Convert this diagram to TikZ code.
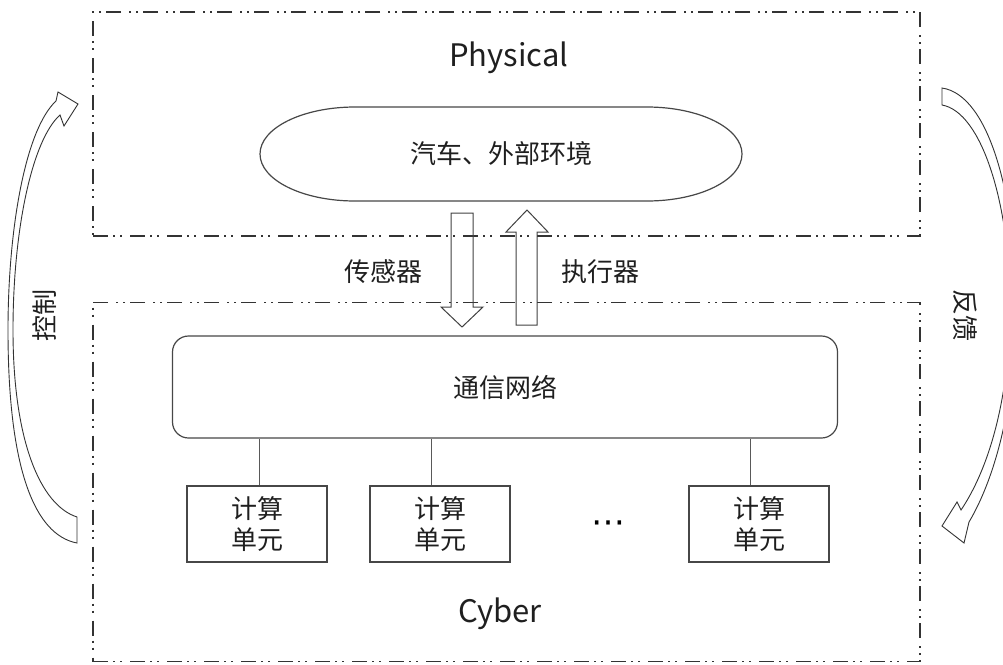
\documentclass[tikz,border=0pt]{standalone}
\usepackage{fontspec}
\setmainfont{Noto Sans CJK SC}
\newfontfamily\symfont{DejaVu Sans}
\begin{document}
\begin{tikzpicture}[x=1pt,y=-1pt,
  zone/.style={draw=black!80, line width=1.6pt,
    dash pattern=on 15pt off 5pt on 2pt off 5pt on 2pt off 8pt, inner sep=0pt},
  outline/.style={draw=black!72, line width=1.2pt},
  cjk/.style={font=\fontsize{26}{31}\selectfont, text=black!88},
  title/.style={font=\fontsize{31}{36}\selectfont, text=black!88, anchor=base},
  unit/.style={outline, minimum width=140pt, minimum height=76pt, inner sep=0pt,
    align=center, cjk},
  link/.style={draw=black!65, line width=0.9pt},
  hollow/.style={draw=black!75, line width=1pt, line join=miter},
  arcarrow/.style={draw=black!80, line width=0.9pt, fill=white, line join=miter}]
\useasboundingbox (0,0) rectangle (1003,664);

% the two domains
\node[zone, minimum width=827pt, minimum height=224pt] (phys) at (506.5,124) {};
\node[zone, minimum width=827pt, minimum height=359pt] (cyb) at (506.5,482) {};
\node[title] (ptitle) at (509,66) {Physical};
\node[title] (ctitle) at (500,622) {Cyber};

% physical plant
\node[cjk] (env) at (501,154) {汽车、外部环境};
\draw[outline] (355,107) -- (647,107)
  arc[start angle=90, end angle=-90, x radius=95pt, y radius=47pt]
  -- (355,201)
  arc[start angle=270, end angle=90, x radius=95pt, y radius=47pt] -- cycle;

% sensing and actuation
\draw[hollow] (451,213) -- (473,213) -- (473,307) -- (483,307) -- (462,327)
  -- (441,307) -- (451,307) -- cycle;
\draw[hollow] (516,325) -- (537,325) -- (537,232) -- (548,232) -- (527,210)
  -- (506,232) -- (516,232) -- cycle;
\node[cjk] (sens) at (383,272) {传感器};
\node[cjk] (act) at (600,272) {执行器};

% cyber side
\node[outline, rounded corners=16pt, minimum width=665pt, minimum height=102pt,
  cjk] (net) at (505,387) {通信网络};
\node[unit] (c1) at (257,524) {计算\\单元};
\node[unit] (c2) at (440,524) {计算\\单元};
\node[unit] (c3) at (759,524) {计算\\单元};
\node[font=\symfont\fontsize{34}{34}\selectfont] (more) at (608,527) {⋯};
\draw[link] ([xshift=2pt]c1.north) -- ([xshift=2pt]c1.north |- net.south);
\draw[link] ([xshift=-9pt]c2.north) -- ([xshift=-9pt]c2.north |- net.south);
\draw[link] ([xshift=-9pt]c3.north) -- ([xshift=-9pt]c3.north |- net.south);

% control loop
\draw[arcarrow] (77,517) .. controls (40,505) and (13,440) .. (13,330)
  .. controls (13,230) and (32,140) .. (60,115) -- (64,126) -- (78,104)
  -- (58,92) -- (56,101) .. controls (25,130) and (8,230) .. (8,330)
  .. controls (8,470) and (35,535) .. (77,543) -- cycle;
\node[cjk, rotate=90] (ctl) at (45,315) {控制};

% feedback loop
\draw[arcarrow] (942,88) .. controls (990,95) and (1016,200) .. (1016,305)
  .. controls (1016,405) and (994,480) .. (969,522) -- (964,543) -- (942,526)
  -- (957,502) -- (961,510) .. controls (988,470) and (1010,400) .. (1010,305)
  .. controls (1010,205) and (982,112) .. (942,105) -- cycle;
\node[cjk, rotate=-90] (fb) at (965,315) {反馈};
\end{tikzpicture}
\end{document}
